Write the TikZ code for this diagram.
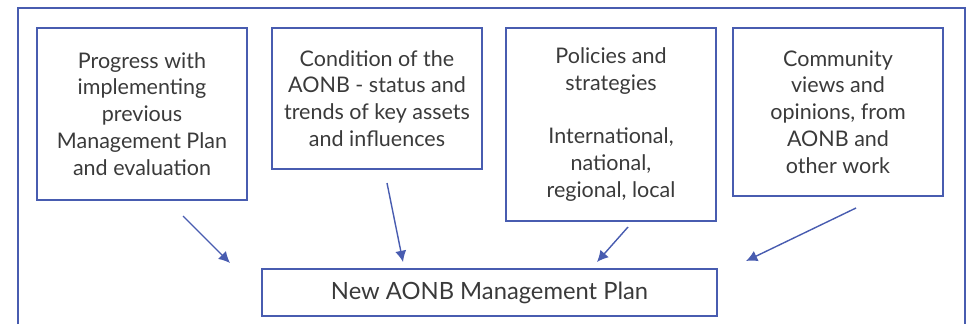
\documentclass[tikz,border=0pt]{standalone}
\usepackage{fontspec}
\setmainfont{Lato}
\usetikzlibrary{arrows.meta}
\definecolor{planblue}{RGB}{72,92,176}
\definecolor{plangrey}{RGB}{58,58,58}

\begin{document}
\begin{tikzpicture}[
  inbox/.style={draw=planblue, line width=1.1pt, text=plangrey, align=center,
    inner sep=0pt, minimum width=5.250cm, font=\fontsize{15.3}{19.1}\selectfont},
  planbox/.style={draw=planblue, line width=1.1pt, text=plangrey, inner sep=0pt,
    minimum width=11.375cm, minimum height=1.175cm, font=\fontsize{16.9}{20}\selectfont},
  feed/.style={draw=planblue, line width=1pt, -{Latex[length=8pt,width=8pt]}}]
\useasboundingbox (0,0) rectangle (24.200,8.100);
\draw[planblue, line width=1.1pt] (0.450,0) -- (0.450,7.900) -- (24.125,7.900) -- (24.125,0);
\node[inbox, minimum height=4.300cm] (progress) at (3.550,5.250)
  {Progress with\\implementing\\previous\\Management Plan\\and evaluation};
\node[inbox, minimum height=3.525cm] (condition) at (9.425,5.638)
  {Condition of the\\AONB - status and\\trends of key assets\\and influences};
\node[inbox, minimum height=4.825cm] (policies) at (15.275,4.988)
  {Policies and\\strategies\\[19.1pt]International,\\national,\\regional, local};
\node[inbox, minimum height=4.200cm] (community) at (20.950,5.300)
  {Community\\views and\\opinions, from\\AONB and\\other work};
\node[planbox] (newplan) at (12.238,0.788) {New AONB Management Plan};
\coordinate (progress-out) at (4.575,2.700);
\coordinate (progress-in) at (5.750,1.525);
\coordinate (condition-out) at (9.675,3.525);
\coordinate (condition-in) at (10.075,1.550);
\coordinate (policies-out) at (15.700,2.425);
\coordinate (policies-in) at (14.925,1.550);
\coordinate (community-out) at (21.400,2.900);
\coordinate (community-in) at (18.650,1.575);
\draw[feed] (progress-out) -- (progress-in);
\draw[feed] (condition-out) -- (condition-in);
\draw[feed] (policies-out) -- (policies-in);
\draw[feed] (community-out) -- (community-in);
\end{tikzpicture}
\end{document}
